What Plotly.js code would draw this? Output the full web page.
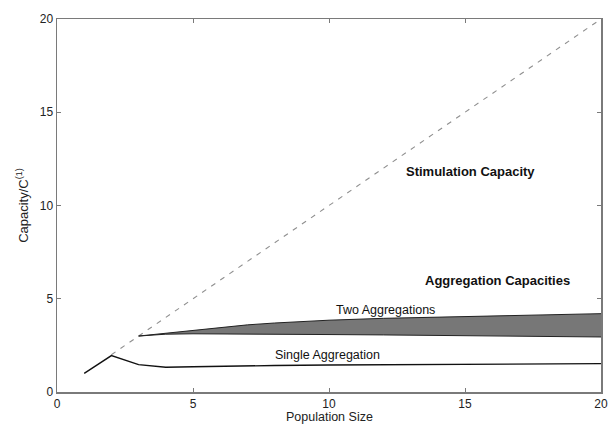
<!DOCTYPE html>
<html>
<head>
<meta charset="utf-8">
<script src="https://cdn.plot.ly/plotly-3.0.1.min.js"></script>
<style>html,body{margin:0;padding:0;background:#fff;}#chart{width:609px;height:424px;}</style>
</head>
<body>
<div id="chart"></div>
<script>
// Stimulation capacity (dashed diagonal)
const stimX = [2, 20];
const stimY = [2, 20];
// Single aggregation capacity
const singleX = [1, 2, 3, 4, 5, 6, 8, 10, 15, 20];
const singleY = [1.0, 1.95, 1.47, 1.33, 1.35, 1.38, 1.42, 1.45, 1.5, 1.52];
// Two aggregations band
const twoX = [3, 4, 5, 6, 7, 8, 10, 12, 15, 20];
const twoUpper = [3.0, 3.15, 3.3, 3.48, 3.6, 3.7, 3.85, 3.95, 4.05, 4.2];
const twoLower = [3.0, 3.1, 3.12, 3.12, 3.11, 3.1, 3.08, 3.06, 3.02, 2.95];

const font = "Liberation Sans, Arial, sans-serif";

const traces = [
  {x: stimX, y: stimY, mode: 'lines', line: {color: '#8f8f8f', width: 1.1, dash: '5px,6px'}, hoverinfo: 'skip'},
  {x: twoX, y: twoLower, mode: 'lines', line: {color: '#222', width: 1}, hoverinfo: 'skip'},
  {x: twoX, y: twoUpper, mode: 'lines', fill: 'tonexty', fillcolor: '#777777', line: {color: '#222', width: 1}, hoverinfo: 'skip'},
  {x: singleX, y: singleY, mode: 'lines', line: {color: '#111', width: 1.4}, hoverinfo: 'skip'}
];

const axisCommon = {
  showgrid: false, zeroline: false, showline: true, linecolor: '#7a7a7a', linewidth: 1.5,
  mirror: 'ticks', ticks: 'inside', ticklen: 4, tickcolor: '#7a7a7a', tickwidth: 1,
  tickfont: {family: font, size: 12, color: '#222'}, dtick: 5
};

const layout = {
  width: 609, height: 424,
  margin: {l: 57, r: 8, t: 19, b: 32},
  paper_bgcolor: '#fff', plot_bgcolor: '#fff',
  showlegend: false,
  xaxis: Object.assign({}, axisCommon, {range: [0, 20], tickvals: [0, 5, 10, 15, 20]}),
  yaxis: Object.assign({}, axisCommon, {range: [0, 20], tickvals: [0, 5, 10, 15, 20],
    title: {text: 'Capacity/C<sup>(1)</sup>', font: {family: font, size: 13, color: '#222'}, standoff: 8}}),
  annotations: [
    {x: 0.5, y: -0.066, xref: 'paper', yref: 'paper', text: 'Population Size', showarrow: false, yanchor: 'middle', font: {family: font, size: 12.5, color: '#222'}},
    {x: 15.2, y: 11.85, text: '<b>Stimulation Capacity</b>', showarrow: false, font: {family: font, size: 13, color: '#111'}},
    {x: 16.2, y: 5.96, text: '<b>Aggregation Capacities</b>', showarrow: false, font: {family: font, size: 13, color: '#111'}},
    {x: 12.06, y: 4.42, text: 'Two Aggregations', showarrow: false, font: {family: font, size: 12.5, color: '#111'}},
    {x: 9.96, y: 1.97, text: 'Single Aggregation', showarrow: false, font: {family: font, size: 12.5, color: '#111'}}
  ]
};

Plotly.newPlot('chart', traces, layout, {displayModeBar: false, staticPlot: true});
</script>
</body>
</html>
